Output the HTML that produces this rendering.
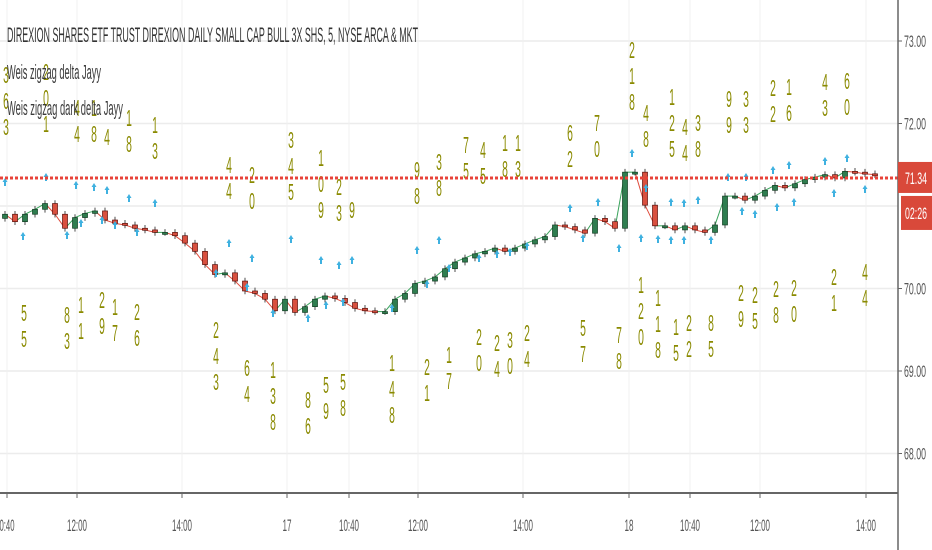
<!DOCTYPE html>
<html><head><meta charset="utf-8">
<style>
html,body{margin:0;padding:0;background:#fff;}
svg{display:block;font-family:"Liberation Sans",sans-serif;}
</style></head>
<body>
<svg id="chart" width="932" height="550" viewBox="0 0 932 550" xmlns="http://www.w3.org/2000/svg">
  <rect x="0" y="0" width="932" height="550" fill="#ffffff"/>
  <g id="grid"></g>
  <g id="zig"></g>
  <g id="candles"></g>
  <g id="arrows"></g>
  <g id="labels"></g>
  <g id="axes"></g>
  <text x="7" y="42" font-size="21" fill="#333" textLength="411" lengthAdjust="spacingAndGlyphs">DIREXION SHARES ETF TRUST DIREXION DAILY SMALL CAP BULL 3X SHS, 5, NYSE ARCA &amp; MKT</text>
  <text x="7" y="79" font-size="20" fill="#3a3a3a" textLength="94" lengthAdjust="spacingAndGlyphs">Weis zigzag delta Jayy</text>
  <text x="7" y="115" font-size="20" fill="#3a3a3a" textLength="116" lengthAdjust="spacingAndGlyphs">Weis zigzag dark delta Jayy</text>
</svg>
<script>
// ---- data ----
const closes = [70.90,70.81,70.90,70.96,71.03,70.90,70.73,70.86,70.91,70.94,
70.83,70.79,70.77,70.73,70.71,70.68,70.68,70.64,70.55,70.45,
70.29,70.17,70.19,70.09,69.97,69.94,69.87,69.73,69.87,69.71,
69.78,69.87,69.91,69.88,69.83,69.76,69.73,69.72,69.72,69.87,
69.94,70.06,70.09,70.14,70.24,70.32,70.37,70.42,70.45,70.49,
70.45,70.49,70.54,70.59,70.63,70.77,70.75,70.71,70.67,70.85,
70.81,70.73,71.41,71.41,71.01,70.76,70.76,70.71,70.76,70.71,
70.68,70.77,71.12,71.12,71.07,71.12,71.19,71.25,71.22,71.27,
71.32,71.35,71.38,71.34,71.42,71.41,71.39,71.38];
const yTicks = [73, 72, 71, 70, 69, 68];
const yTickLabels = ["73.00","72.00","","70.00","69.00","68.00"];
const xTickLabels = ["0:40","12:00","14:00","17","10:40","12:00","14:00","18","10:40","12:00","14:00"];
const xTickPos = [7,77,182,287,349,418,523,629,690,760,866];
const lastPrice = 71.34;
const topLabels = [[6,75,"363"],[46,72,"201"],[77,108,"44"],[94,108,"18"],[107,137,"4"],[129,118,"18"],[155,125,"13"],
[229,165,"44"],[252,175,"20"],[291,140,"345"],[321,158,"109"],[339,187,"23"],[352,210,"9"],[417,170,"98"],[439,162,"38"],
[466,145,"75"],[483,150,"45"],[505,143,"18"],[518,143,"13"],[570,133,"62"],[597,123,"70"],[632,50,"218"],[646,113,"48"],
[672,97,"125"],[685,127,"44"],[698,123,"38"],[729,99,"99"],[746,99,"33"],[773,88,"22"],[789,87,"16"],[825,82,"43"],[847,81,"60"]];
const botLabels = [[24,313,"55"],[67,315,"83"],[81,305,"11"],[102,300,"29"],[115,307,"17"],[137,312,"26"],[216,330,"243"],
[247,368,"64"],[273,370,"138"],[308,400,"86"],[326,385,"59"],[343,382,"58"],[392,363,"148"],[427,367,"21"],[449,355,"17"],
[479,337,"20"],[497,343,"24"],[510,340,"30"],[527,333,"24"],[583,328,"57"],[619,335,"78"],[641,285,"120"],[658,298,"118"],
[676,327,"15"],[689,323,"22"],[711,323,"85"],[741,293,"29"],[755,295,"25"],[776,289,"28"],[794,288,"20"],[834,277,"21"],[865,272,"44"]];
const arrowUp = [[5,182],[46,177],[76,185],[94,187],[107,190],[129,198],[155,203],[229,243],[252,258],[291,239],[321,260],[339,265],[352,260],[417,250],[439,240],[570,208],[598,202],[632,153],[646,188],[671,202],[684,203],[698,200],[728,177],[746,177],[773,170],[789,165],[825,161],[847,158]];
const arrowDown = [[23,236],[67,235],[81,223],[102,220],[115,225],[137,232],[216,273],[247,287],[273,313],[308,318],[326,305],[343,302],[392,308],[427,284],[449,268],[479,258],[497,254],[510,252],[527,246],[583,238],[619,248],[641,238],[658,239],[671,240],[684,240],[711,240],[742,211],[755,214],[777,207],[794,202],[834,193],[865,189]];

// ---- scales ----
const NS = "http://www.w3.org/2000/svg";
function yScale(p){ return 206 + (71 - p) * 82.5; }
function xScale(i){ return 5 + i * 10; }
function mk(tag, attrs, parent){ const e = document.createElementNS(NS, tag); for (const k in attrs) e.setAttribute(k, attrs[k]); parent.appendChild(e); return e; }

const grid = document.getElementById('grid');
yTicks.forEach((t,i)=>{
  const l = mk('line',{x1:0,x2:898,y1:yScale(t),y2:yScale(t),stroke:'#ececec','stroke-width':1.5},grid);
  
  
});
xTickPos.forEach((x)=>{
  const l = mk('line',{x1:x,x2:x,y1:0,y2:493,stroke:'#f0f0f0','stroke-width':1},grid);
  
  
});

// zigzag lines (thin)
const zg = document.getElementById('zig');
for (let i=1;i<closes.length;i++){
  const l = mk('line',{x1:xScale(i-1),y1:yScale(closes[i-1]),x2:xScale(i),y2:yScale(closes[i]),stroke:closes[i]>=closes[i-1]?'#3aa35c':'#e04b3c','stroke-width':1},zg);
  
  
}

// candles
const cg = document.getElementById('candles');
closes.forEach((c,i)=>{
  const o = i===0 ? c - 0.05 : closes[i-1];
  const hi = Math.max(o,c) + 0.04, lo = Math.min(o,c) - 0.04;
  const x = xScale(i);
  const up = c >= o;
  const w = mk('line',{x1:x,x2:x,y1:yScale(hi),y2:yScale(lo),stroke:'#222','stroke-width':0.8},cg);
  
  
  const top = yScale(Math.max(o,c)), h = Math.max(2, yScale(Math.min(o,c)) - top);
  const r = mk('rect',{x:x-2.5,y:top,width:5,height:h,fill:up?'#2e7d4f':'#d9503f',stroke:up?'#123d22':'#5a0f0a','stroke-width':0.7},cg);
  
  
});

// arrows
const ag = document.getElementById('arrows');
arrowUp.concat(arrowDown).forEach(([x,y])=>{
  const p = mk('path',{d:`M${x} ${y-4} L${x+2.5} ${y} L${x+1} ${y} L${x+1} ${y+4} L${x-1} ${y+4} L${x-1} ${y} L${x-2.5} ${y} Z`,fill:'#3fb1e0'},ag);
  
  
});

// digit labels
const lg = document.getElementById('labels');
topLabels.concat(botLabels).forEach(([x,y,s])=>{
  for (let k=0;k<s.length;k++){
    const t = mk('text',{transform:`translate(${x},${y+k*26+8}) scale(0.45,1)`,'font-size':23,fill:'#8a8a00','text-anchor':'middle'},lg);
    t.textContent = s[k];
    
    
  }
});

// last price line
const ax = document.getElementById('axes');
const pl = mk('line',{x1:0,x2:898,y1:yScale(lastPrice),y2:yScale(lastPrice),stroke:'#e8433a','stroke-width':3,'stroke-dasharray':'3 2'},ax);



// axes
const ra = mk('line',{x1:898,x2:898,y1:0,y2:550,stroke:'#666','stroke-width':1.5},ax);


const ba = mk('line',{x1:0,x2:898,y1:493,y2:493,stroke:'#666','stroke-width':2},ax);


yTicks.forEach((t,i)=>{
  if(!yTickLabels[i]) return;
  const tk = mk('line',{x1:898,x2:902,y1:yScale(t),y2:yScale(t),stroke:'#666'},ax);
  
  
  const tx = mk('text',{x:904,y:yScale(t)+6,'font-size':17,fill:'#555',textLength:22,lengthAdjust:'spacingAndGlyphs'},ax);
  tx.textContent = yTickLabels[i];
  
  
});
xTickLabels.forEach((s,i)=>{
  const x = xTickPos[i];
  const tk = mk('line',{x1:x,x2:x,y1:493,y2:498,stroke:'#666'},ax);
  
  
  const w = s.length>2 ? (s.length===4?15:20) : 9;
  const tx = mk('text',{x:x,y:531,'font-size':17,fill:'#555','text-anchor':'middle',textLength:w,lengthAdjust:'spacingAndGlyphs'},ax);
  tx.textContent = s;
  
  
});
// price badges
const py = yScale(lastPrice);
const b1 = mk('rect',{x:898,y:py-16,width:34,height:31,fill:'#d9493a'},ax);


const t1 = mk('text',{x:905,y:py+6,'font-size':17,fill:'#fff',textLength:22,lengthAdjust:'spacingAndGlyphs'},ax);
t1.textContent = '71.34';


const b2 = mk('rect',{x:901,y:py+18,width:31,height:34,fill:'#d9493a'},ax);


const t2 = mk('text',{x:905,y:py+41,'font-size':17,fill:'#fff',textLength:22,lengthAdjust:'spacingAndGlyphs'},ax);
t2.textContent = '02:26';


</script>
</body></html>
